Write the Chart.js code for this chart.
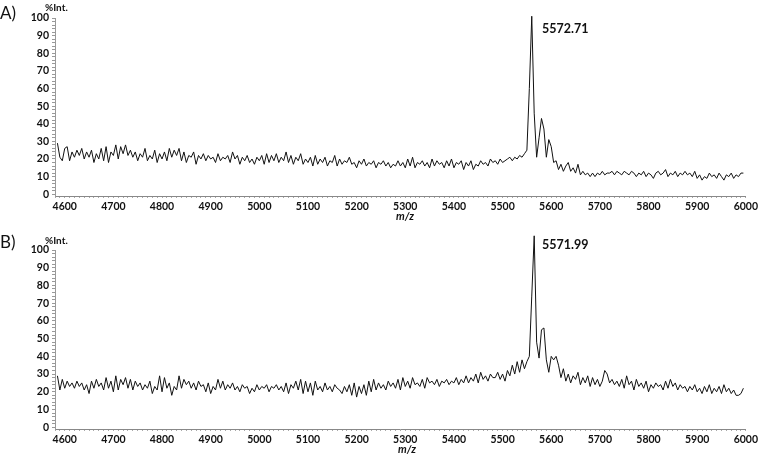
<!DOCTYPE html>
<html><head><meta charset="utf-8">
<script src="https://cdn.jsdelivr.net/npm/chart.js@4.4.0/dist/chart.umd.min.js"></script>
<style>
html,body{margin:0;padding:0;background:#fff;width:760px;height:456px;overflow:hidden;position:relative;}
.panel{position:absolute;left:0;width:760px;height:228px;}
#pa{top:0;}
#pb{top:228px;}
.lbl{position:absolute;font-family:Lato,sans-serif;color:#111;white-space:nowrap;line-height:1;transform:translateY(-50%);}
</style></head><body>
<div class="panel" id="pa"><canvas id="ca"></canvas></div>
<div class="panel" id="pb"><canvas id="cb"></canvas></div>
<div class="lbl" style="left:0;top:12px;font-size:17px;">A)</div>
<div class="lbl" style="left:0;top:241px;font-size:17px;">B)</div>
<div class="lbl" style="left:45px;top:7px;font-size:10px;font-weight:bold;">%Int.</div>
<div class="lbl" style="left:45px;top:240px;font-size:10px;font-weight:bold;">%Int.</div>
<div class="lbl" style="left:542px;top:29px;font-size:12.5px;font-weight:bold;">5572.71</div>
<div class="lbl" style="left:542px;top:245px;font-size:12.5px;font-weight:bold;">5571.99</div>
<div class="lbl" style="left:396px;top:215px;font-size:11px;font-weight:bold;font-style:italic;">m/z</div>
<div class="lbl" style="left:398px;top:448px;font-size:11px;font-weight:bold;font-style:italic;">m/z</div>
<script>
// m/z sampling of the traces
const mzStart = 4585;
const mzStep = 5;
// x-axis tick labels and y-axis ticks
const xTickLabels = [4600,4700,4800,4900,5000,5100,5200,5300,5400,5500,5600,5700,5800,5900,6000];
const yTickLabels = [0,10,20,30,40,50,60,70,80,90,100];
const peakLabels = ["5572.71","5571.99"];

// Panel A: %Int. values from m/z 4585 in 5 Da steps
const intensityA = [
29,21,19,26,27,19,24,21,25,22,
26,20,24,21,25,18,23,20,26,19,
27,18,24,22,28,20,27,23,28,22,
25,21,24,19,23,21,26,19,22,20,
25,18,23,20,24,19,26,21,25,22,
26,19,24,18,22,21,24,17,22,20,
23,19,22,20,21,18,23,19,21,20,
22,18,24,20,22,17,21,19,22,18,
20,17,21,19,22,17,23,18,22,19,
23,18,21,19,24,18,22,17,21,19,
23,17,20,18,21,16,22,17,20,18,
21,16,19,18,22,16,20,17,19,18,
21,17,18,15,19,17,20,16,18,17,
19,15,18,17,19,16,18,15,17,16,
19,16,18,15,20,16,21,15,18,17,
19,16,18,15,20,16,19,17,18,15,
19,16,20,15,18,17,19,14,18,16,
19,14,17,16,19,17,18,16,20,18,
19,17,20,18,19,20,21,19,21,20,
22,21,23,25,60,101,46,21,32,43,
37,21,31,27,18,19,14,17,13,16,
18,13,15,12,17,11,13,11,12,10,
12,10,12,11,13,11,12,12,13,11,
13,12,11,13,12,11,13,12,10,12,
11,13,10,12,11,9,12,13,11,12,
14,10,12,11,13,10,12,11,13,11,
12,10,13,9,11,8,10,9,12,10,
11,9,12,10,8,11,10,12,9,11,
10,12,12
];

// Panel B: %Int. values from m/z 4585 in 5 Da steps
const intensityB = [
29,21,27,22,26,23,25,22,26,23,
25,21,24,19,26,22,27,23,25,21,
28,22,26,20,29,21,27,24,28,22,
27,21,26,23,25,21,24,22,26,19,
23,21,29,20,28,22,25,18,23,21,
29,22,27,24,26,22,25,21,26,23,
24,20,25,19,23,21,27,22,26,21,
24,22,25,21,23,20,24,22,23,19,
22,20,24,21,23,22,24,20,23,22,
24,21,23,20,25,19,24,22,26,21,
27,19,26,20,25,18,26,21,23,20,
25,21,23,20,24,22,21,19,23,20,
24,18,25,17,23,19,24,18,26,20,
27,21,25,22,24,21,26,23,25,22,
27,21,28,23,26,22,28,24,25,23,
27,22,28,25,26,24,27,23,26,25,
27,24,26,25,28,24,27,25,29,25,
28,26,30,25,31,27,29,26,30,28,
28,31,27,30,26,32,29,35,30,37,
31,38,33,37,40,74,108,48,39,55,
56,38,31,40,38,40,35,28,33,26,
30,25,29,27,31,24,28,25,29,23,
28,24,27,23,26,32,30,25,27,24,
26,23,27,22,29,24,26,21,27,23,
25,22,26,20,24,22,25,23,24,21,
26,22,27,23,25,21,24,22,23,20,
23,21,24,20,22,19,23,20,24,19,
22,20,23,19,24,20,22,19,21,18,
18,19,22
];

Chart.defaults.font.family = 'Lato';

function toPoints(arr){
  return arr.map((v,i)=>({x: mzStart + i*mzStep, y: v}));
}

function makeChart(id, values, padTop, xAxisHeight){
  const tickFont = {family:'Lato', weight:'bold', size:10.5};
  return new Chart(document.getElementById(id), {
    type:'line',
    data:{datasets:[{data:toPoints(values), borderColor:'#111', borderWidth:1, pointRadius:0, tension:0, fill:false, clip:false}]},
    options:{
      responsive:true, maintainAspectRatio:false, animation:false, events:[],
      layout:{padding:{top:padTop, right:13, left:0, bottom:0}},
      plugins:{legend:{display:false}, tooltip:{enabled:false}},
      scales:{
        x:{
          type:'linear', min:4580, max:6000,
          border:{color:'#888', width:1},
          grid:{drawOnChartArea:false, drawTicks:true, tickLength:2, color:'#aaa'},
          ticks:{stepSize:10, autoSkip:false, maxRotation:0, minRotation:0, padding:2, color:'#111', font:tickFont,
            callback:(v)=>{const r=Math.round(v); return xTickLabels.includes(r)? String(r) : '';}},
          afterFit:(s)=>{s.height = xAxisHeight;}
        },
        y:{
          min:-1, max:100,
          border:{color:'#999', width:1},
          grid:{drawOnChartArea:false, drawTicks:true, tickLength:3, color:'#999'},
          ticks:{stepSize:2, includeBounds:false, autoSkip:false, padding:3, color:'#111', font:tickFont,
            callback:(v)=>{const r=Math.round(v); return yTickLabels.includes(r)? String(r) : '';}},
          afterBuildTicks:(s)=>{s.ticks = s.ticks.filter(t=>t.value>=0 && t.value<=100);},
          afterFit:(s)=>{s.width = 55;}
        }
      }
    }
  });
}

makeChart('ca', intensityA, 18, 32);
makeChart('cb', intensityB, 22, 27);
</script>
</body></html>
